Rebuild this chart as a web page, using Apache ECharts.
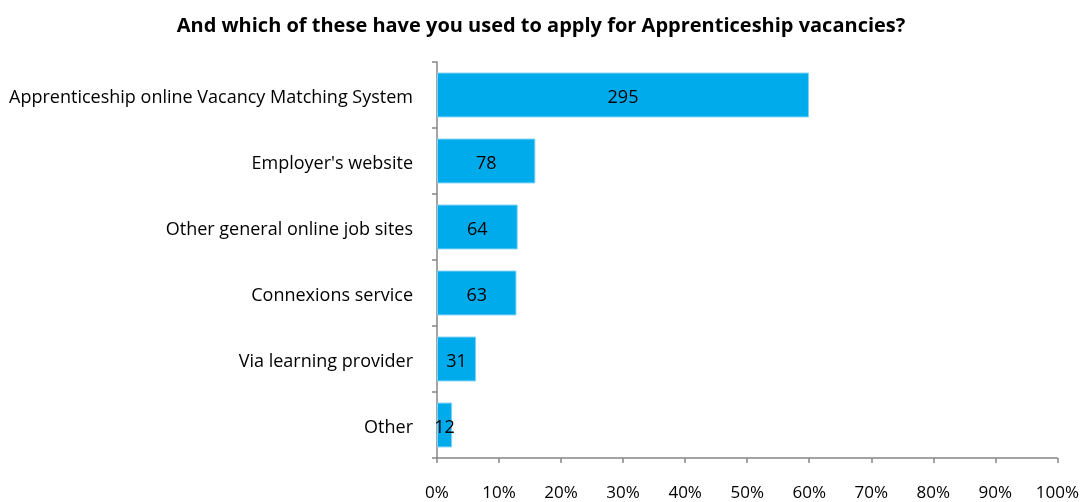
<!DOCTYPE html>
<html>
<head>
<meta charset="utf-8">
<script src="https://cdn.jsdelivr.net/npm/echarts@6/dist/echarts.min.js"></script>
<style>
  html, body { margin: 0; padding: 0; background: #ffffff; }
  #chart { width: 1082px; height: 502px; }
</style>
</head>
<body>
<div id="chart"></div>
<script>
// Survey question: channels used to apply for apprenticeship vacancies
const titleText = 'And which of these have you used to apply for Apprenticeship vacancies?';
const categories = [
  'Apprenticeship online Vacancy Matching System',
  "Employer's website",
  'Other general online job sites',
  'Connexions service',
  'Via learning provider',
  'Other'
];
// Number of respondents choosing each channel (shown on the bars)
const counts = [295, 78, 64, 63, 31, 12];
// Total respondents; bar length is the share of this base
const respondents = 492;
const tickLabels = ['0%', '10%', '20%', '30%', '40%', '50%', '60%', '70%', '80%', '90%', '100%'];

const shares = counts.map(c => c / respondents * 100);

const font = '"Open Sans", "Liberation Sans", Arial, sans-serif';
const axisGray = '#868686';

const chart = echarts.init(document.getElementById('chart'), null, { renderer: 'canvas' });
chart.setOption({
  animation: false,
  backgroundColor: '#ffffff',
  title: {
    text: titleText,
    left: 'center',
    top: 11,
    textStyle: { fontFamily: font, fontWeight: 'bold', fontSize: 20, color: '#000000' }
  },
  grid: { left: 437, right: 23, top: 62, bottom: 44, containLabel: false },
  xAxis: {
    type: 'value',
    min: 0,
    max: 100,
    interval: 10,
    axisLine: { show: true, lineStyle: { color: axisGray, width: 1.5 } },
    axisTick: { show: true, length: 5, lineStyle: { color: axisGray, width: 1.5 } },
    splitLine: { show: false },
    axisLabel: {
      margin: 27,
      fontFamily: font,
      fontSize: 17,
      color: '#000000',
      formatter: v => tickLabels[Math.round(v / 10)]
    }
  },
  yAxis: {
    type: 'category',
    inverse: true,
    data: categories,
    axisLine: { show: true, lineStyle: { color: axisGray, width: 1.5 } },
    axisTick: { show: true, length: 5, lineStyle: { color: axisGray, width: 1.5 } },
    axisLabel: {
      margin: 24,
      formatter: v => '{c|' + v + '}',
      rich: {
        c: { fontFamily: font, fontSize: 18, color: '#000000', padding: [6, 0, 0, 0] }
      }
    }
  },
  series: [{
    type: 'bar',
    data: shares,
    barCategoryGap: '32%',
    itemStyle: { color: '#00ABEB', borderColor: '#7FD3F5', borderWidth: 1 },
    label: {
      show: true,
      position: 'inside',
      offset: [0, 3],
      fontFamily: font,
      fontSize: 18,
      color: '#000000',
      formatter: p => String(counts[p.dataIndex])
    }
  }]
});
</script>
</body>
</html>
